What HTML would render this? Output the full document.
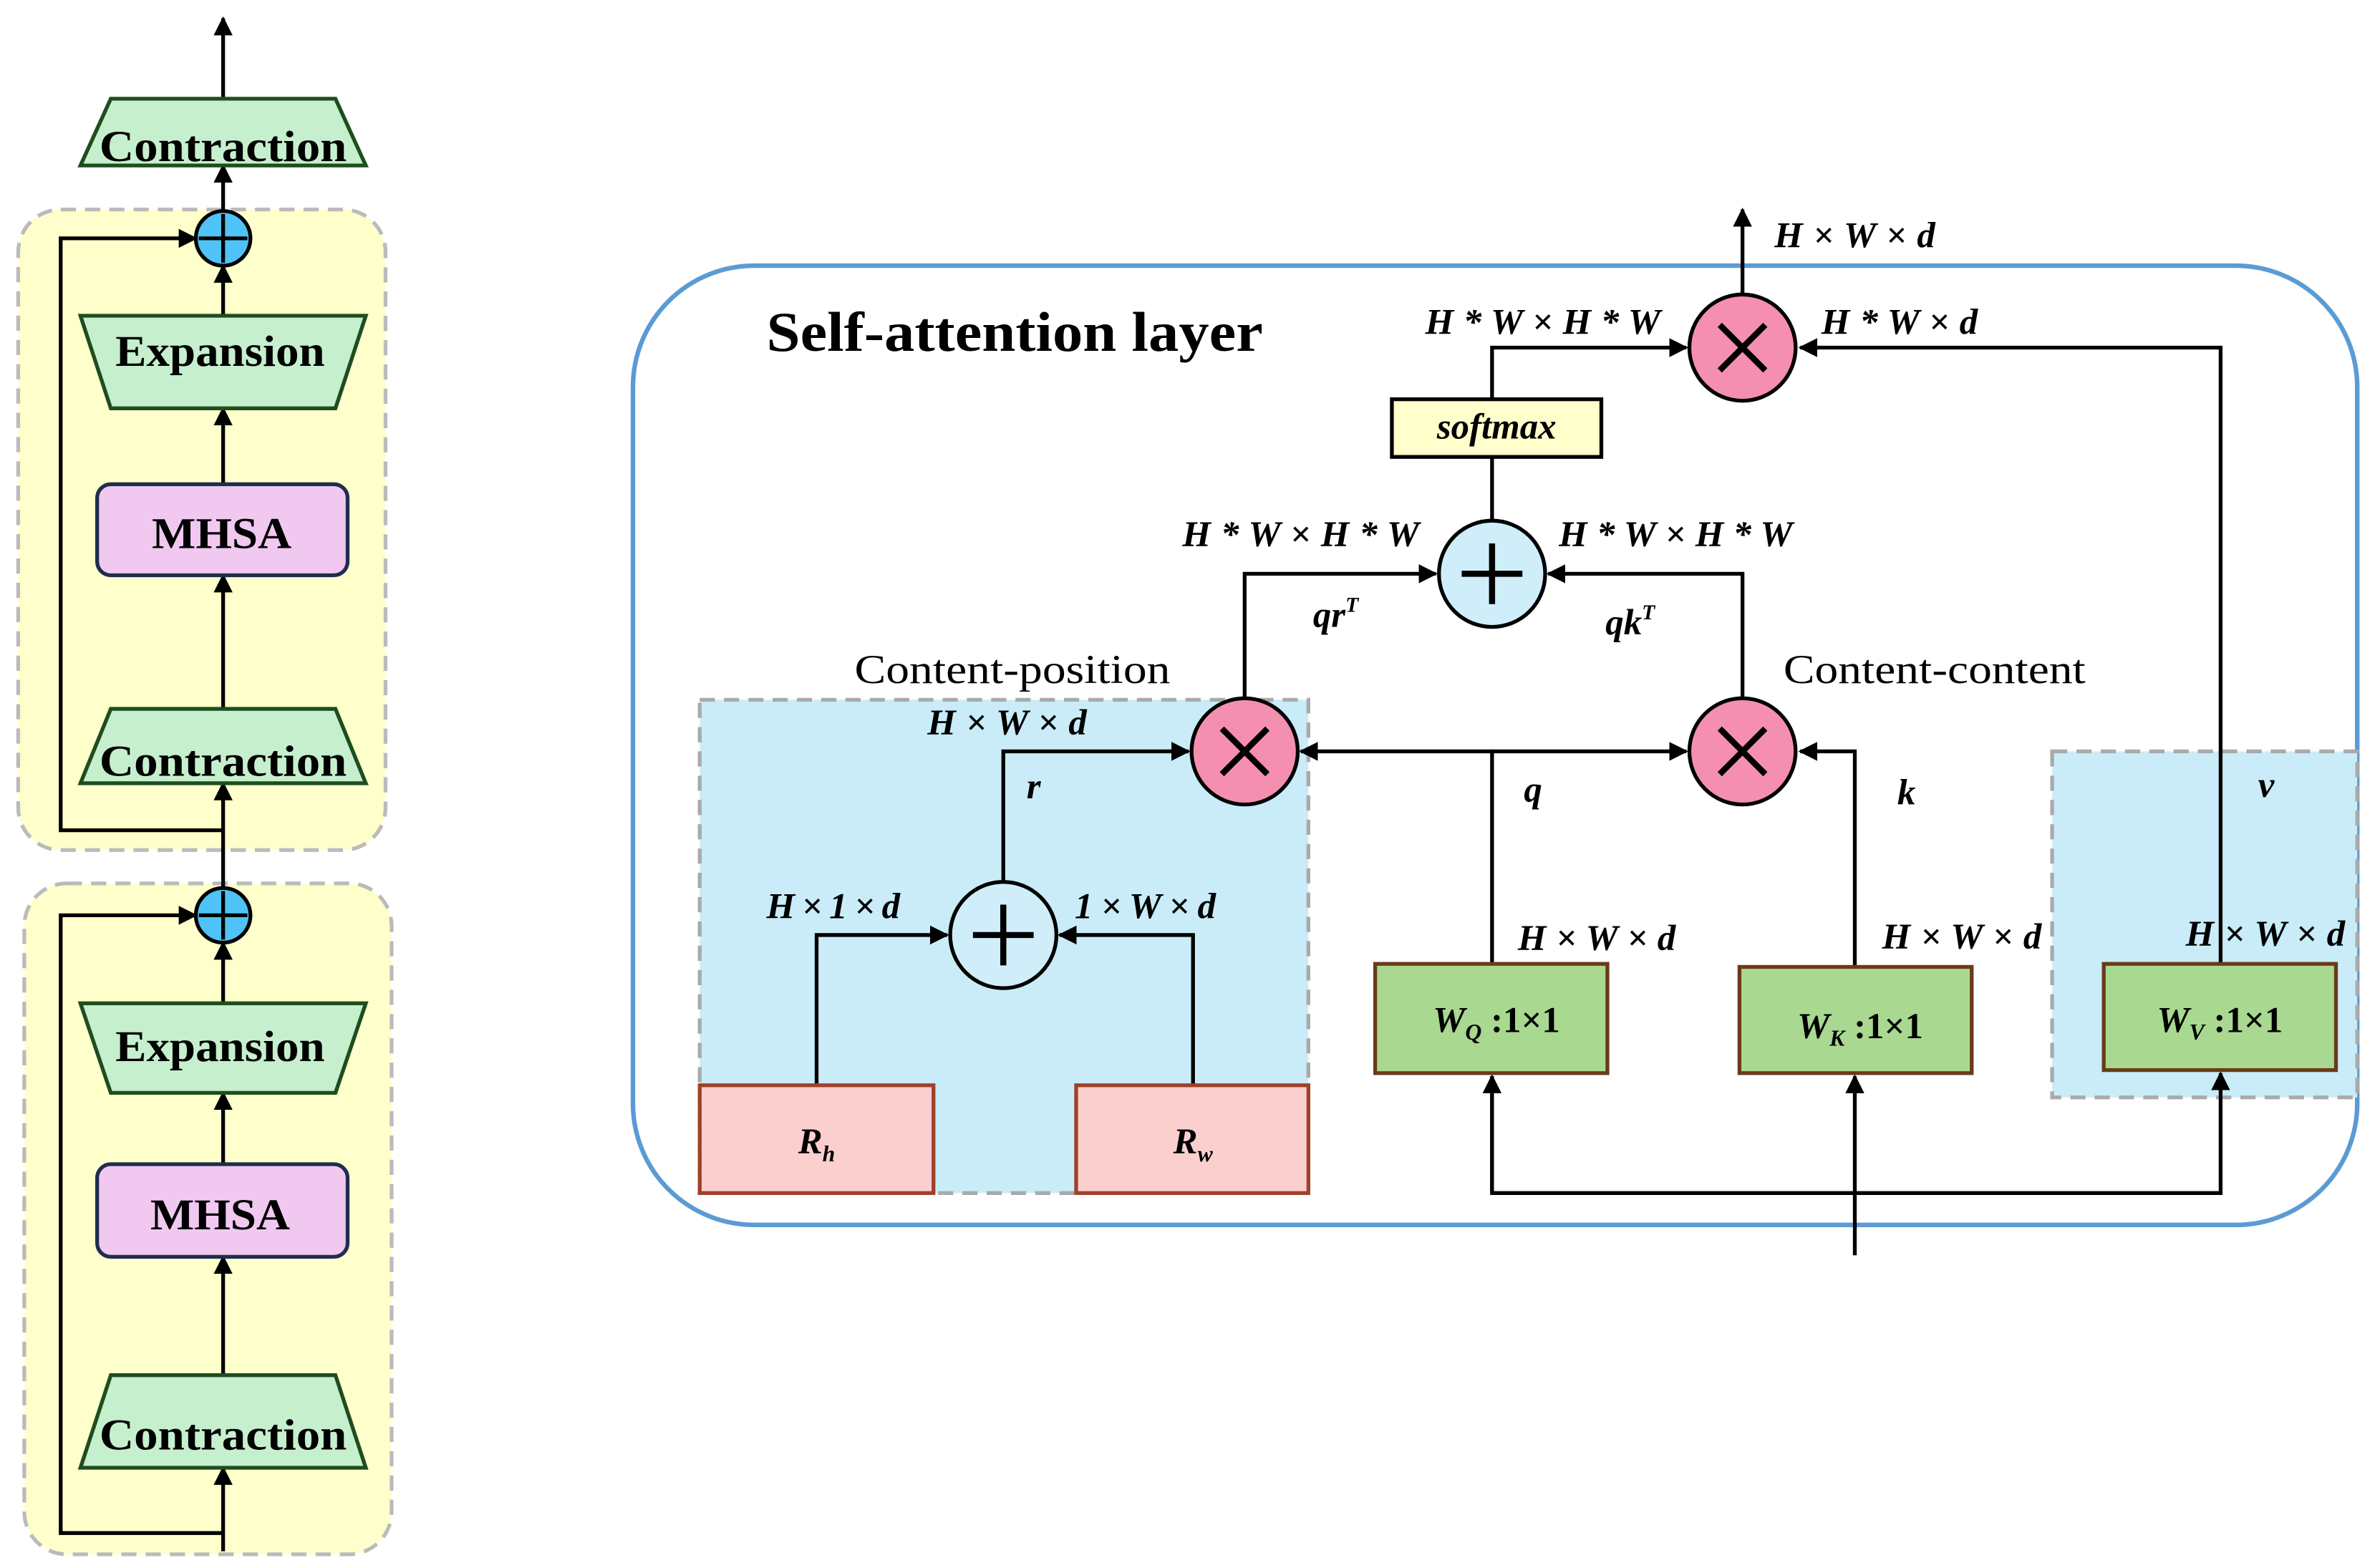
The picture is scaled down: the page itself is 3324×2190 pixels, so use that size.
<!DOCTYPE html>
<html><head><meta charset="utf-8"><style>html,body{margin:0;padding:0;background:#fff}svg{display:block}</style></head><body>
<svg width="3324" height="2190" viewBox="0 0 1568 1033" xmlns="http://www.w3.org/2000/svg" font-family="'Liberation Serif',serif">
<defs>
<marker id="a" viewBox="0 0 10 10" refX="9" refY="5" markerWidth="5" markerHeight="5" orient="auto-start-reverse"><path d="M0,0L10,5L0,10z" fill="#000"/></marker>
</defs>
<rect width="1568" height="1033" fill="#fff"/>
<rect x="12" y="138" width="242" height="422" rx="28" fill="#ffffcc" stroke="#bbb" stroke-width="2.5" stroke-dasharray="10,6"/>
<rect x="16" y="582" width="242" height="442" rx="28" fill="#ffffcc" stroke="#bbb" stroke-width="2.5" stroke-dasharray="10,6"/>
<g stroke="#000" stroke-width="2.5" fill="none">
<line x1="147" y1="65" x2="147" y2="12" marker-end="url(#a)"/>
<line x1="147" y1="139" x2="147" y2="109" marker-end="url(#a)"/>
<line x1="147" y1="208" x2="147" y2="175" marker-end="url(#a)"/>
<line x1="147" y1="319" x2="147" y2="269" marker-end="url(#a)"/>
<line x1="147" y1="467" x2="147" y2="379" marker-end="url(#a)"/>
<line x1="147" y1="585" x2="147" y2="516" marker-end="url(#a)"/>
<polyline points="147,547 40,547 40,157 129,157" marker-end="url(#a)"/>
<line x1="147" y1="661" x2="147" y2="621" marker-end="url(#a)"/>
<line x1="147" y1="767" x2="147" y2="720" marker-end="url(#a)"/>
<line x1="147" y1="906" x2="147" y2="828" marker-end="url(#a)"/>
<line x1="147" y1="1022" x2="147" y2="967" marker-end="url(#a)"/>
<polyline points="147,1010 40,1010 40,603 129,603" marker-end="url(#a)"/>
</g>
<g stroke="#1e4d1e" stroke-width="2.5" fill="#c6efce">
<polygon points="73,65 221,65 241,109 53,109"/>
<polygon points="53,208 241,208 221,269 73,269"/>
<polygon points="73,467 221,467 241,516 53,516"/>
<polygon points="53,661 241,661 221,720 73,720"/>
<polygon points="73,906 221,906 241,967 53,967"/>
</g>
<g stroke="#1f2d4d" stroke-width="2.5" fill="#f0c8f0">
<rect x="64" y="319" width="165" height="60" rx="9"/>
<rect x="64" y="767" width="165" height="61" rx="9"/>
</g>
<g stroke="#000" stroke-width="2.5" fill="#4fc3f7">
<circle cx="147" cy="157" r="18"/><circle cx="147" cy="603" r="18"/>
<path d="M147,141V173M131,157H163M147,587V619M131,603H163" fill="none"/>
</g>
<g font-weight="bold" font-size="29" text-anchor="middle" lengthAdjust="spacingAndGlyphs">
<text x="147" y="106" textLength="163" lengthAdjust="spacingAndGlyphs">Contraction</text>
<text x="145" y="241" textLength="138" lengthAdjust="spacingAndGlyphs">Expansion</text>
<text x="146" y="361" textLength="92" lengthAdjust="spacingAndGlyphs">MHSA</text>
<text x="147" y="511" textLength="163" lengthAdjust="spacingAndGlyphs">Contraction</text>
<text x="145" y="699" textLength="138" lengthAdjust="spacingAndGlyphs">Expansion</text>
<text x="145" y="810" textLength="92" lengthAdjust="spacingAndGlyphs">MHSA</text>
<text x="147" y="955" textLength="163" lengthAdjust="spacingAndGlyphs">Contraction</text>
</g>
<rect x="417" y="175" width="1136" height="632" rx="80" fill="none" stroke="#5b9bd5" stroke-width="3"/>
<rect x="461" y="461" width="401" height="325" fill="#c9ecf8" stroke="#aaa" stroke-width="2.5" stroke-dasharray="10,6"/>
<rect x="1352" y="495" width="201" height="228" fill="#c9ecf8" stroke="#aaa" stroke-width="2.5" stroke-dasharray="10,6"/>
<text x="505" y="231" font-size="37" font-weight="bold" textLength="327" lengthAdjust="spacingAndGlyphs">Self-attention layer</text>
<g stroke="#000" stroke-width="2.5" fill="none">
<polyline points="538,715 538,616 624,616" marker-end="url(#a)"/>
<polyline points="786,715 786,616 698,616" marker-end="url(#a)"/>
<polyline points="661,581 661,495 783,495" marker-end="url(#a)"/>
<polyline points="983,635 983,495 857,495" marker-end="url(#a)"/>
<line x1="983" y1="495" x2="1111" y2="495" marker-end="url(#a)"/>
<polyline points="1222,637 1222,495 1186,495" marker-end="url(#a)"/>
<polyline points="1463,635 1463,229 1186,229" marker-end="url(#a)"/>
<line x1="1222" y1="827" x2="1222" y2="709" marker-end="url(#a)"/>
<polyline points="983,709 983,786 1463,786 1463,707" marker-end="url(#a)"/>
<line x1="983" y1="786" x2="983" y2="709" marker-end="url(#a)"/>
<polyline points="820,460 820,378 946,378" marker-end="url(#a)"/>
<polyline points="1148,460 1148,378 1020,378" marker-end="url(#a)"/>
<line x1="983" y1="343" x2="983" y2="301"/>
<polyline points="983,263 983,229 1111,229" marker-end="url(#a)"/>
<line x1="1148" y1="194" x2="1148" y2="138" marker-end="url(#a)"/>
</g>
<g stroke="#a0402a" stroke-width="2.5" fill="#fccfcf">
<rect x="461" y="715" width="154" height="71"/><rect x="709" y="715" width="153" height="71"/>
</g>
<g stroke="#6b3a1a" stroke-width="2.5" fill="#a9d890">
<rect x="906" y="635" width="153" height="72"/><rect x="1146" y="637" width="153" height="70"/><rect x="1386" y="635" width="153" height="70"/>
</g>
<rect x="917" y="263" width="138" height="38" fill="#ffffcc" stroke="#000" stroke-width="2.5"/>
<g stroke="#000" stroke-width="2.5">
<circle cx="661" cy="616" r="35" fill="#cfeefa"/><circle cx="983" cy="378" r="35" fill="#cfeefa"/>
<path d="M661,596V636M641,616H681M983,358V398M963,378H1003" stroke-width="4" fill="none"/>
<circle cx="820" cy="495" r="35" fill="#f48fb1"/><circle cx="1148" cy="495" r="35" fill="#f48fb1"/><circle cx="1148" cy="229" r="35" fill="#f48fb1"/>
<path d="M805,480L835,510M835,480L805,510M1133,480L1163,510M1163,480L1133,510M1133,214L1163,244M1163,214L1133,244" stroke-width="4" fill="none"/>
</g>
<g font-size="24" font-weight="bold" font-style="italic">
<text x="538" y="760" text-anchor="middle">R<tspan font-size="15" dy="5">h</tspan></text>
<text x="786" y="760" text-anchor="middle">R<tspan font-size="15" dy="5">w</tspan></text>
<text x="944" y="680">W<tspan font-size="15" dy="5">Q</tspan><tspan dy="-5" font-style="normal"> :1×1</tspan></text>
<text x="1184" y="684">W<tspan font-size="15" dy="5">K</tspan><tspan dy="-5" font-style="normal"> :1×1</tspan></text>
<text x="1421" y="680">W<tspan font-size="15" dy="5">V</tspan><tspan dy="-5" font-style="normal"> :1×1</tspan></text>
<text x="986" y="289" text-anchor="middle">softmax</text>
<text x="681" y="526" text-anchor="middle">r</text>
<text x="1010" y="528" text-anchor="middle">q</text>
<text x="1256" y="530" text-anchor="middle">k</text>
<text x="1493" y="525" text-anchor="middle">v</text>
<text x="880" y="413" text-anchor="middle">qr<tspan font-size="14" dy="-10">T</tspan></text>
<text x="1074" y="418" text-anchor="middle">qk<tspan font-size="14" dy="-10">T</tspan></text>
<text x="505" y="605" textLength="88" lengthAdjust="spacing">H × 1 × d</text>
<text x="708" y="605" textLength="93" lengthAdjust="spacing">1 × W × d</text>
<text x="611" y="484" textLength="105" lengthAdjust="spacing">H × W × d</text>
<text x="1000" y="626" textLength="104" lengthAdjust="spacing">H × W × d</text>
<text x="1240" y="625" textLength="105" lengthAdjust="spacing">H × W × d</text>
<text x="1440" y="623" textLength="105" lengthAdjust="spacing">H × W × d</text>
<text x="779" y="360" textLength="156" lengthAdjust="spacing">H * W × H * W</text>
<text x="1027" y="360" textLength="154" lengthAdjust="spacing">H * W × H * W</text>
<text x="939" y="220" textLength="155" lengthAdjust="spacing">H * W × H * W</text>
<text x="1200" y="220" textLength="103" lengthAdjust="spacing">H * W × d</text>
<text x="1169" y="163" textLength="106" lengthAdjust="spacing">H × W × d</text>
</g>
<g font-size="27">
<text x="563" y="450" textLength="208" lengthAdjust="spacingAndGlyphs">Content-position</text>
<text x="1175" y="450" textLength="199" lengthAdjust="spacingAndGlyphs">Content-content</text>
</g>
</svg>
</body></html>
